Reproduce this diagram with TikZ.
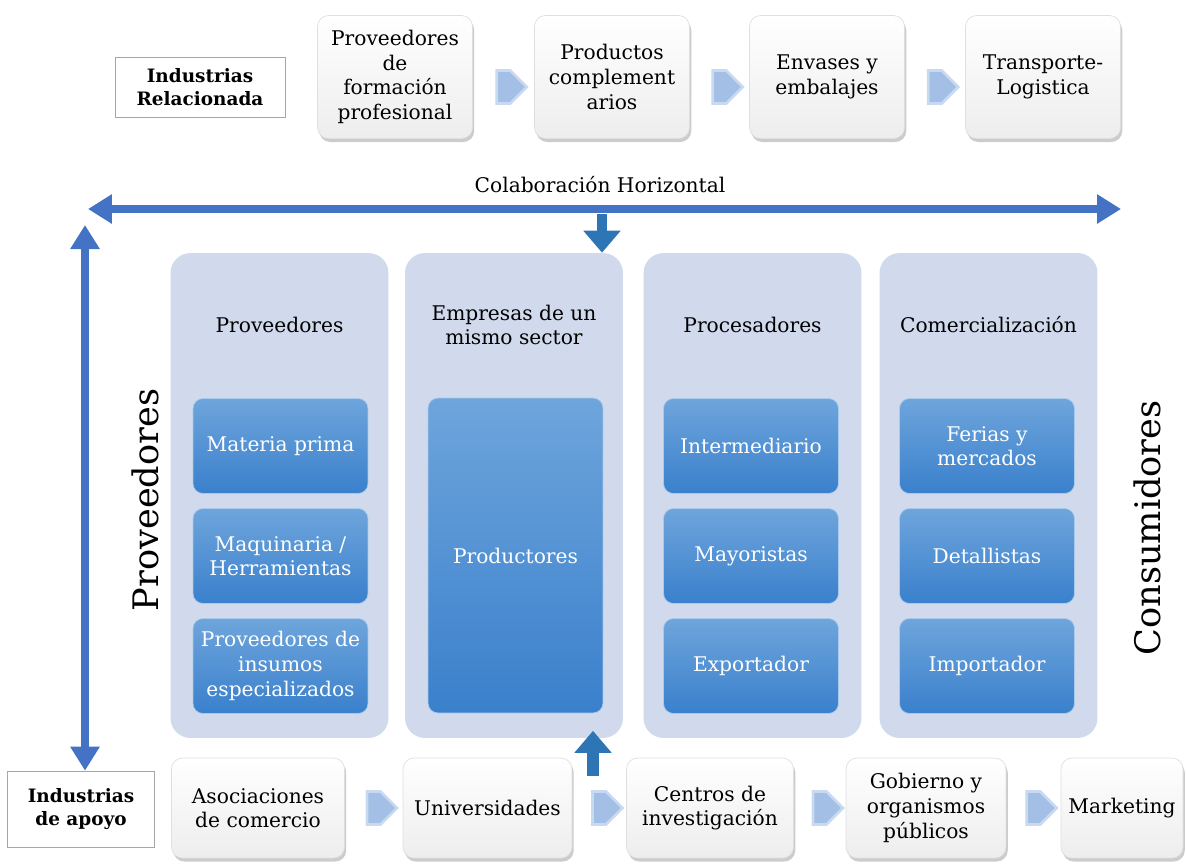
\documentclass[tikz,border=0pt]{standalone}
\usepackage{fontspec}
\setmainfont{DejaVu Serif}
\usetikzlibrary{arrows.meta,shapes.symbols,shadows,calc}
\definecolor{colbg}{RGB}{208,218,236}
\definecolor{celltop}{RGB}{110,165,220}
\definecolor{cellbot}{RGB}{58,128,204}
\definecolor{arrblue}{RGB}{68,114,196}
\definecolor{arrdark}{RGB}{46,117,182}
\definecolor{chevfill}{RGB}{163,191,230}

\begin{document}
\begin{tikzpicture}[x=0.02cm, y=-0.02cm,
    every node/.style={font=\fontsize{11.5}{14}\selectfont, align=center},
    indbox/.style={draw=gray!70, fill=white, font=\fontsize{10.5}{13.5}\selectfont\bfseries, inner sep=2pt},
    card/.style={rounded corners=0.22cm, top color=white, bottom color=gray!14, draw=gray!25,
                 drop shadow={opacity=0.4, shadow xshift=1pt, shadow yshift=-2pt},
                 minimum width=3.1cm, minimum height=2.46cm, inner sep=1pt},
    chev/.style={signal, signal to=east, fill=chevfill, draw=chevfill!60, line width=1.5pt,
                 minimum width=0.6cm, minimum height=0.66cm, inner sep=0pt},
    col/.style={rounded corners=0.4cm, fill=colbg, minimum width=4.36cm, minimum height=9.7cm},
    cell/.style={rounded corners=0.2cm, top color=celltop, bottom color=cellbot, draw=celltop!60,
                 text=white, minimum width=3.5cm, minimum height=1.9cm, inner sep=1pt},
    side/.style={rotate=90, font=\fontsize{20}{24}\selectfont},
    bigarrow/.style={draw=arrblue, line width=4.5pt,
                 arrows={Triangle[length=0.48cm,width=0.56cm]-Triangle[length=0.48cm,width=0.56cm]}},
    blockarrow/.style={draw=arrdark, line width=7pt,
                 arrows={-Triangle[length=0.44cm,width=0.72cm]}}]
  \useasboundingbox (0,0) rectangle (1186,863);
  % Related industries (top row)
  \node[indbox, minimum width=3.4cm, minimum height=1.2cm] (rel) at (200,87) {Industrias\\Relacionada};
  \node[card] (t1) at (395,77) {Proveedores\\de\\formación\\profesional};
  \node[card] (t2) at (612,77) {Productos\\complement\\arios};
  \node[card] (t3) at (827,77) {Envases y\\embalajes};
  \node[card] (t4) at (1043,77) {Transporte-\\Logistica};
  \foreach \a/\b in {t1/t2, t2/t3, t3/t4}
    \node[chev, yshift=-0.2cm] (ch-\a) at ($(\a.east)!0.5!(\b.west)$) {};
  % Horizontal collaboration
  \node (colab) at (600,185) {Colaboración Horizontal};
  \coordinate (hl) at (88,209);
  \coordinate (hr) at (1121,209);
  % Columns
  \node[col] (c1) at (279.5,495.5) {};
  \node[col] (c2) at (514,495.5) {};
  \node[col] (c3) at (752.5,495.5) {};
  \node[col] (c4) at (988.5,495.5) {};
  \node (h1) at (279.5,325) {Proveedores};
  \node (h2) at (514,325) {Empresas de un\\mismo sector};
  \node (h3) at (752.5,325) {Procesadores};
  \node (h4) at (988.5,325) {Comercialización};
  % Cells
  \node[cell] (mp) at (280.5,446) {Materia prima};
  \node[cell] (maq) at (280.5,556) {Maquinaria /\\Herramientas};
  \node[cell] (ins) at (280.5,666) {Proveedores de\\insumos\\especializados};
  \node[cell, minimum height=6.3cm] (prod) at (515.5,555.5) {Productores};
  \node[cell] (inter) at (751,446) {Intermediario};
  \node[cell] (may) at (751,556) {Mayoristas};
  \node[cell] (exp) at (751,666) {Exportador};
  \node[cell] (fer) at (987,446) {Ferias y\\mercados};
  \node[cell] (det) at (987,556) {Detallistas};
  \node[cell] (imp) at (987,666) {Importador};
  % Side labels
  \node[side] (prv) at (145,500) {Proveedores};
  \node[side] (cons) at (1147,528) {Consumidores};
  % Support industries (bottom row)
  \node[indbox, minimum width=2.94cm, minimum height=1.52cm] (apoyo) at (81,809) {Industrias\\de apoyo};
  \node[card, minimum width=3.46cm, minimum height=2cm] (a1) at (258,808) {Asociaciones\\de comercio};
  \node[card, minimum width=3.38cm, minimum height=2cm] (a2) at (487.5,808) {Universidades};
  \node[card, minimum width=3.34cm, minimum height=2cm] (a3) at (710,808) {Centros de\\investigación};
  \node[card, minimum width=3.2cm, minimum height=2cm] (a4) at (926,808) {Gobierno y\\organismos\\públicos};
  \node[card, minimum width=2.44cm, minimum height=2cm] (a5) at (1122,808) {Marketing};
  \foreach \a/\b in {a1/a2, a2/a3, a3/a4, a4/a5}
    \node[chev] (ch-\a) at ($(\a.east)!0.5!(\b.west)$) {};
  % Arrows
  \draw[bigarrow] (hl) -- (hr);
  \coordinate (vt) at (85,225);
  \draw[bigarrow] (vt) -- (vt |- apoyo.north);
  \coordinate (hd) at (602,214);
  \draw[blockarrow, line width=6pt] (hd) -- (hd |- c2.north);
  \coordinate (ua) at (593,776);
  \draw[blockarrow, shorten >=-0.15cm] (ua) -- (ua |- c2.south);
\end{tikzpicture}
\end{document}
